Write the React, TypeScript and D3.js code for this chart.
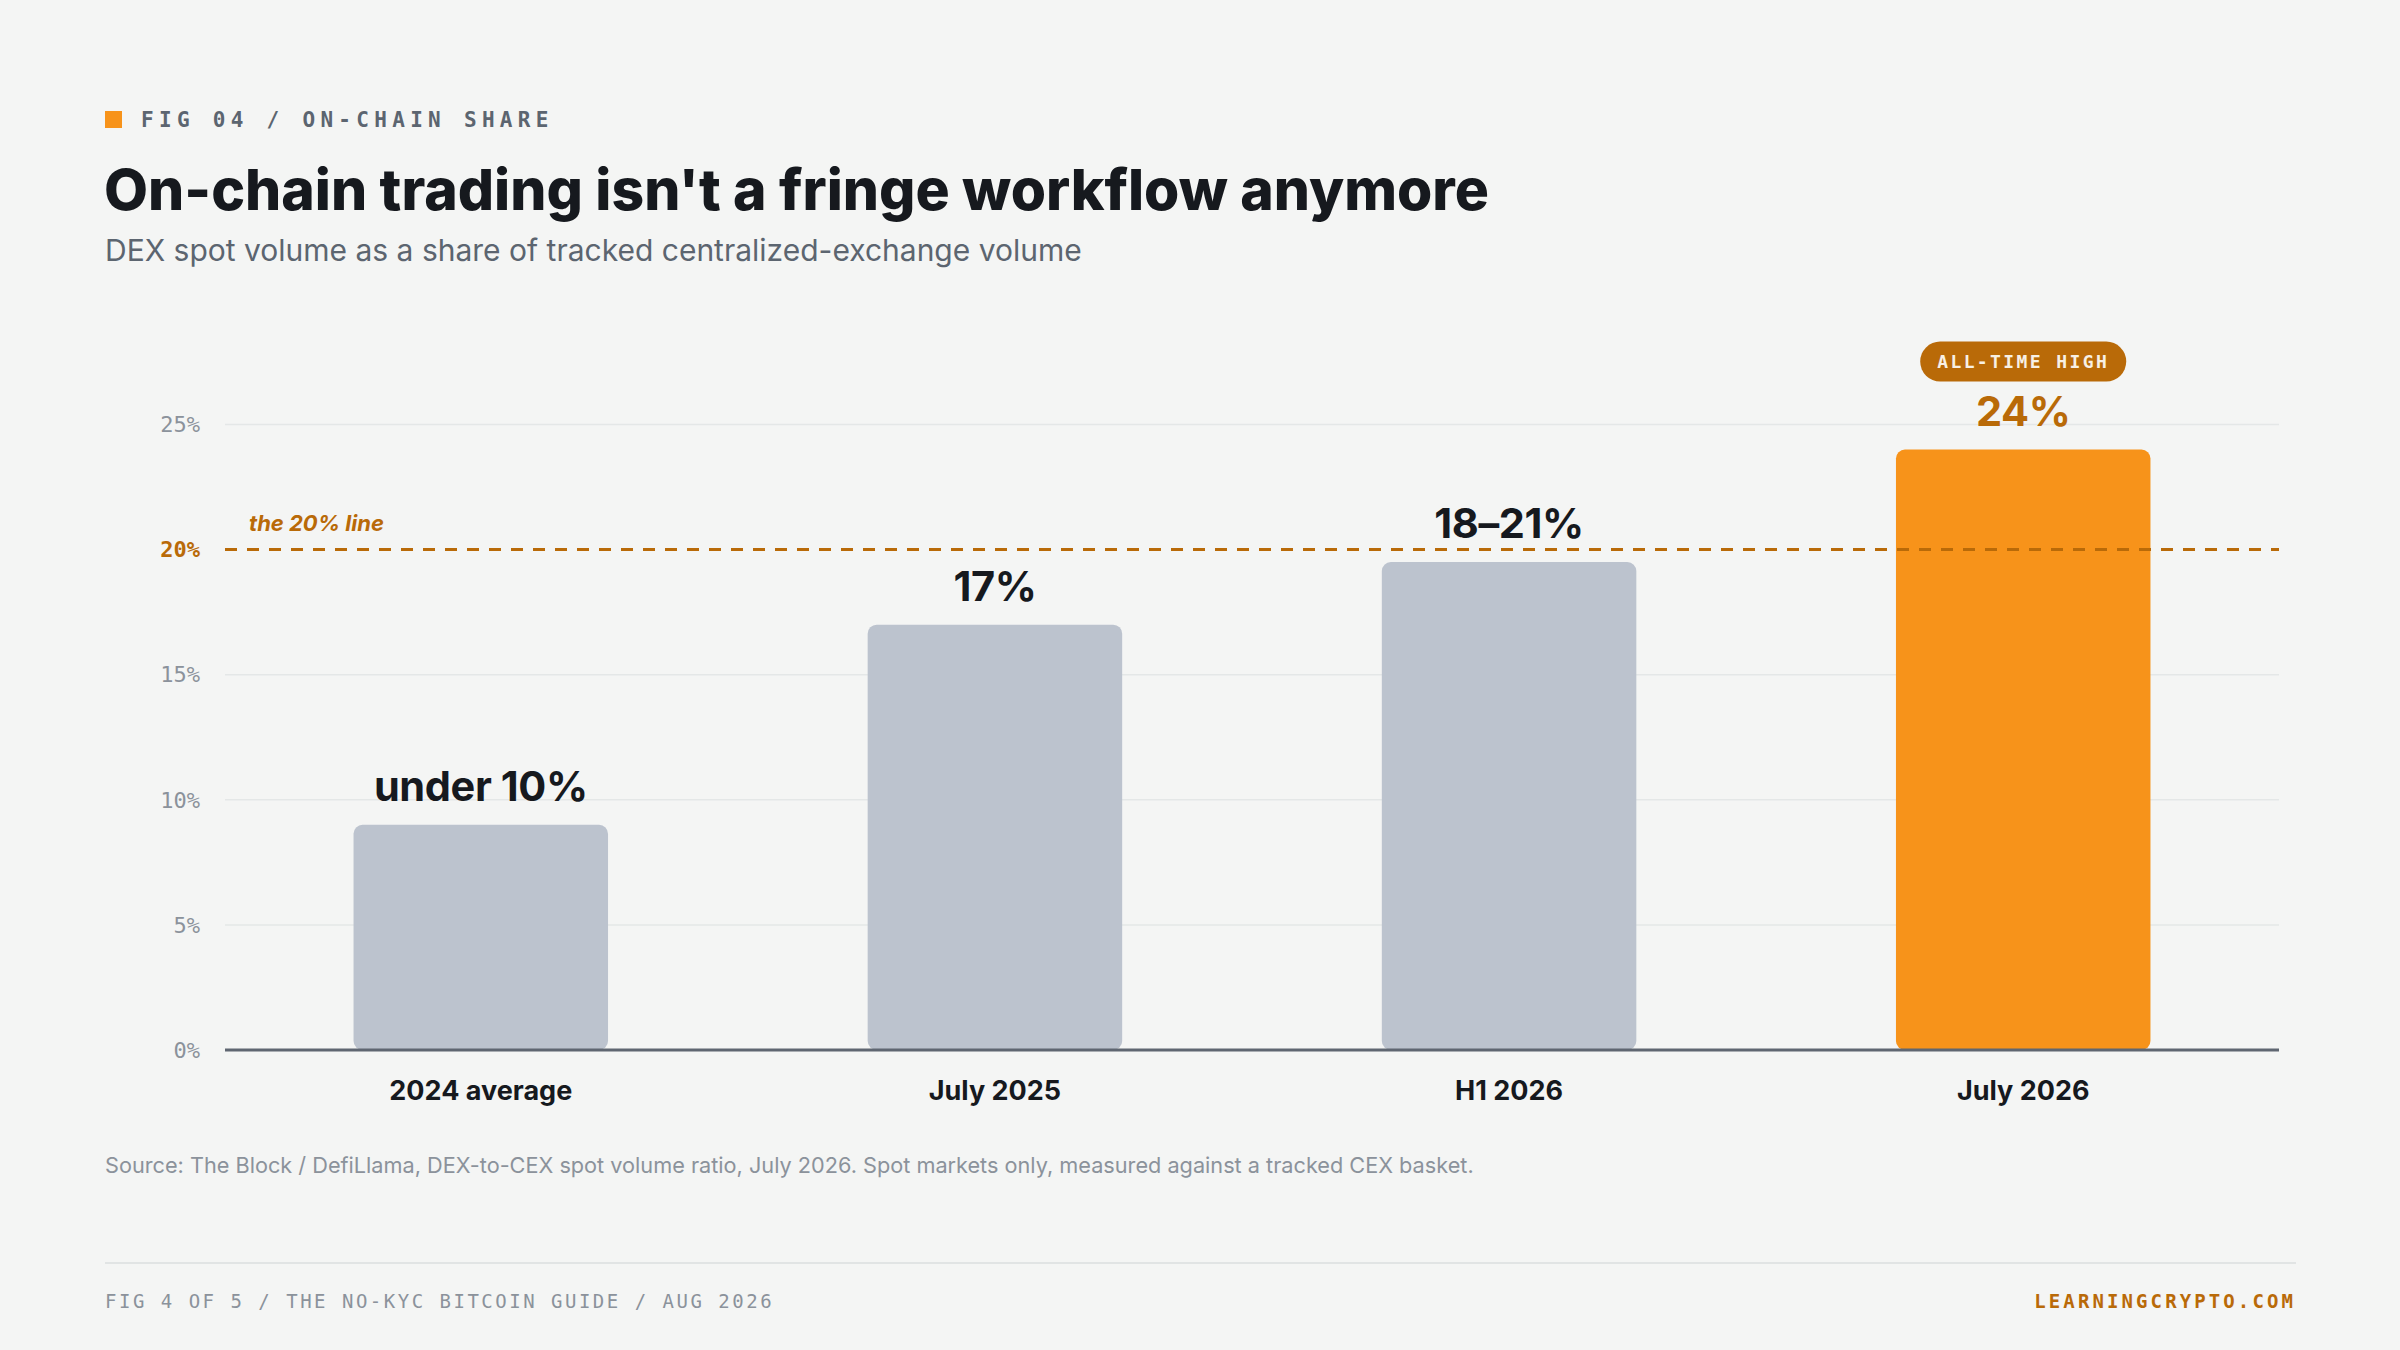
import React from 'react';
import * as d3 from 'd3';

const categories = ['2024 average', 'July 2025', 'H1 2026', 'July 2026'];
const shares = [9, 17, 19.5, 24];
const valueLabels = ['under 10%', '17%', '18–21%', '24%'];
const yTicks = [0, 5, 10, 15, 20, 25];
const threshold = 20;
const highlightIndex = 3;

const W = 2400;
const H = 1350;
const sans = 'Inter, "Noto Sans", sans-serif';
const mono = '"DejaVu Sans Mono", "Liberation Mono", monospace';

const bg = '#f4f5f4';
const ink = '#16191e';
const slate = '#5c6570';
const muted = '#8b929b';
const barGray = '#bcc3ce';
const orange = '#f7931a';
const rust = '#b96a08';

export default function App() {
  const left = 225;
  const right = 2279;
  const top = 424.5;
  const bottom = 1050;

  const x = d3
    .scaleBand<string>()
    .domain(categories)
    .range([left, right])
    .paddingInner(0.505)
    .paddingOuter(0.25);
  const y = d3.scaleLinear().domain([0, 25]).range([bottom, top]);

  const dashY = y(threshold);

  return (
    <div style={{ position: 'absolute', left: 0, top: 0 }}>
      <svg width={W} height={H} viewBox={`0 0 ${W} ${H}`} style={{ display: 'block', background: bg }}>
        <rect width={W} height={H} fill={bg} />

        {/* header */}
        <rect x={105} y={111} width={17} height={17} fill={orange} />
        <text x={141} y={127} fontFamily={mono} fontSize={21} fontWeight={700} letterSpacing={5.3} fill={slate}>
          FIG 04 / ON-CHAIN SHARE
        </text>
        <text x={104} y={210} fontFamily={sans} fontSize={57} fontWeight={800} letterSpacing={0} fill={ink}>
          On-chain trading isn't a fringe workflow anymore
        </text>
        <text x={105} y={261} fontFamily={sans} fontSize={30} fontWeight={400} fill={slate}>
          DEX spot volume as a share of tracked centralized-exchange volume
        </text>

        {/* grid */}
        {yTicks
          .filter((t) => t !== 0 && t !== threshold)
          .map((t) => (
            <line key={'g' + t} x1={left} x2={right} y1={y(t)} y2={y(t)} stroke="#e4e7e7" strokeWidth={1.5} />
          ))}

        {yTicks.map((t) => (
          <text
            key={'t' + t}
            x={200}
            y={y(t)}
            dy="0.35em"
            textAnchor="end"
            fontFamily={mono}
            fontSize={22}
            fontWeight={t === threshold ? 700 : 400}
            fill={t === threshold ? rust : muted}
          >
            {t}%
          </text>
        ))}

        {/* bars */}
        {categories.map((c, i) => (
          <rect
            key={c}
            x={x(c)}
            y={y(shares[i])}
            width={x.bandwidth()}
            height={y(0) - y(shares[i])}
            rx={9}
            fill={i === highlightIndex ? orange : barGray}
          />
        ))}

        {/* threshold */}
        <line x1={left} x2={right} y1={dashY} y2={dashY} stroke={rust} strokeWidth={3} strokeDasharray="12 10" />
        <text x={249} y={dashY - 19} fontFamily={sans} fontSize={22} fontWeight={700} fontStyle="italic" fill={rust}>
          the 20% line
        </text>

        <line x1={left} x2={right} y1={bottom} y2={bottom} stroke="#5f6671" strokeWidth={3} />

        {/* value labels */}
        {categories.map((c, i) => (
          <text
            key={'v' + c}
            x={(x(c) as number) + x.bandwidth() / 2}
            y={y(shares[i]) - 24}
            textAnchor="middle"
            fontFamily={sans}
            fontSize={41.5}
            fontWeight={700}
            letterSpacing={-0.4}
            fill={i === highlightIndex ? rust : ink}
          >
            {valueLabels[i]}
          </text>
        ))}

        {/* badge */}
        {(() => {
          const c = categories[highlightIndex];
          const cx = (x(c) as number) + x.bandwidth() / 2;
          const by = y(shares[highlightIndex]) - 24 - 44;
          return (
            <g>
              <rect x={cx - 103} y={by - 40} width={206} height={40} rx={20} fill={rust} />
              <text
                x={cx}
                y={by - 20}
                dy="0.36em"
                textAnchor="middle"
                fontFamily={mono}
                fontSize={18}
                fontWeight={700}
                letterSpacing={2.4}
                fill="#f8f0e4"
              >
                ALL-TIME HIGH
              </text>
            </g>
          );
        })()}

        {/* x labels */}
        {categories.map((c) => (
          <text
            key={'x' + c}
            x={(x(c) as number) + x.bandwidth() / 2}
            y={1100}
            textAnchor="middle"
            fontFamily={sans}
            fontSize={27}
            fontWeight={700}
            fill={ink}
          >
            {c}
          </text>
        ))}

        {/* source */}
        <text x={105} y={1173} fontFamily={sans} fontSize={21.7} fill={muted}>
          Source: The Block / DefiLlama, DEX-to-CEX spot volume ratio, July 2026. Spot markets only, measured against a
          tracked CEX basket.
        </text>

        {/* footer */}
        <line x1={105} x2={2296} y1={1263} y2={1263} stroke="#e1e4e4" strokeWidth={2} />
        <text x={105} y={1308} fontFamily={mono} fontSize={19} letterSpacing={2.5} fill={muted}>
          FIG 4 OF 5 / THE NO-KYC BITCOIN GUIDE / AUG 2026
        </text>
        <text
          x={2296}
          y={1308}
          textAnchor="end"
          fontFamily={mono}
          fontSize={19}
          fontWeight={700}
          letterSpacing={3.1}
          fill={rust}
        >
          LEARNINGCRYPTO.COM
        </text>
      </svg>
    </div>
  );
}
